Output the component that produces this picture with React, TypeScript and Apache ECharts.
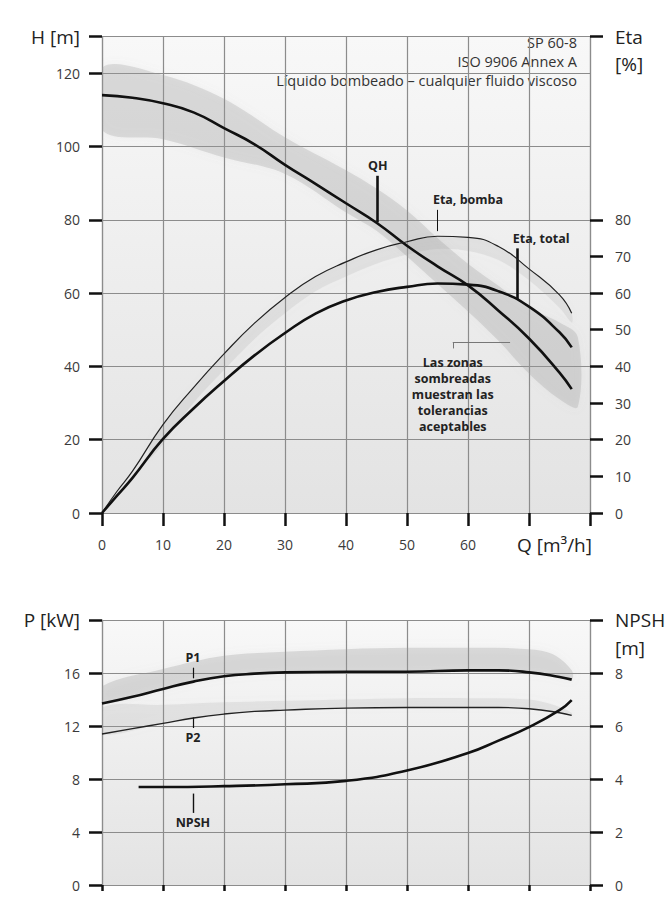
import React, { useEffect, useRef } from 'react';
import * as echarts from 'echarts';

// ---------- data ----------
const qhQ = [0, 5, 10, 15, 20, 25, 30, 35, 40, 45, 50, 55, 60, 65, 70, 75, 77];
const qhH = [114, 113.3, 111.8, 109.3, 105, 100.6, 95, 89.8, 84.5, 79.2, 72.9, 67.3, 62.1, 55.2, 47.6, 38.3, 33.8];

const etaQ = [0, 2.5, 5, 10, 15, 20, 25, 30, 35, 40, 45, 50, 55, 60, 65, 70, 75, 77];
const etaBomba = [0, 6, 11.4, 24.1, 34.2, 43.4, 51.8, 58.8, 64.5, 68.5, 71.8, 74, 75.5, 75.2, 72.7, 66.6, 59.5, 54.5];
const etaTotal = [0, 4.8, 9.6, 20.2, 28.5, 36, 43, 49.1, 54.4, 58, 60.3, 61.7, 62.6, 62.3, 60.5, 56.3, 49.3, 45.2];

const qhBandQ = [0, 10, 20, 30, 40, 45, 50, 55, 60, 65, 70, 75, 78];
const qhBandLower = [104.5, 102, 97, 92.5, 82, 77, 70, 62.5, 55, 47, 38, 31, 29];
const qhBandUpper = [121.5, 119.5, 113, 102.5, 93.5, 88.5, 82.5, 75, 68, 62, 56, 52, 48];

const etaBandQ = [8, 15, 20, 25, 30, 35, 40, 45, 50, 55, 60, 65, 70, 75, 77];
const etaBandLower = [15, 30, 39, 47.5, 54.5, 60.5, 64.5, 68, 70.5, 72, 71.5, 69, 63.5, 56, 52];
const etaBandUpper = [19.5, 34.2, 43.4, 51.8, 58.8, 64.5, 68.5, 71.8, 74, 75.4, 75.2, 72.7, 66.6, 59.5, 54.5];

const pQ = [0, 5, 10, 15, 20, 25, 30, 40, 50, 60, 65, 70, 75, 77];
const p1 = [13.7, 14.2, 14.8, 15.35, 15.75, 15.95, 16.05, 16.1, 16.1, 16.2, 16.2, 16.05, 15.7, 15.5];
const p2 = [11.4, 11.8, 12.2, 12.6, 12.9, 13.1, 13.2, 13.35, 13.4, 13.4, 13.4, 13.3, 13.0, 12.8];

const pBandQ = [0, 10, 20, 30, 40, 50, 60, 70, 74, 77];
const p1BandLower = [13.7, 14.8, 15.75, 16.05, 16.1, 16.1, 16.2, 16.05, 15.8, 15.5];
const p1BandUpper = [15.0, 16.3, 17.3, 17.6, 17.8, 17.9, 17.9, 17.8, 17.4, 16.2];
const p2BandLower = [11.4, 12.2, 12.9, 13.2, 13.35, 13.4, 13.4, 13.3, 13.05, 12.8];
const p2BandUpper = [13.4, 13.6, 13.8, 13.9, 14.0, 14.1, 14.1, 14.0, 13.6, 13.0];

const npshQ = [6, 10, 20, 30, 40, 50, 60, 65, 70, 75, 77];
const npsh = [3.7, 3.7, 3.73, 3.8, 3.93, 4.32, 4.98, 5.45, 5.96, 6.6, 6.98];

const hTicks = [0, 20, 40, 60, 80, 100, 120, 130];
const etaTicks = [0, 10, 20, 30, 40, 50, 60, 70, 80, 130];
const pTicks = [0, 4, 8, 12, 16, 20];
const npshTicks = [0, 2, 4, 6, 8, 10];

const annotLines = ['SP 60-8', 'ISO 9906 Annex A', 'Líquido bombeado – cualquier fluido viscoso'];
const zonasLines = ['Las zonas', 'sombreadas', 'muestran las', 'tolerancias', 'aceptables'];

// ---------- helpers ----------
const FONT = "'Open Sans', 'Noto Sans', 'DejaVu Sans', sans-serif";
const pairs = (xs: number[], ys: number[]) => xs.map((x, i) => [x, ys[i]]);

const GRID_LINE = '#8c8c8c';
const TICK = { show: true, length: 13, lineStyle: { color: '#111', width: 2.5 } };
const labelStyle = { color: '#3a3a3a', fontSize: 14, fontFamily: FONT };
const unitRich = { u: { fontSize: 19, color: '#222', fontFamily: FONT, lineHeight: 27 } };

const bg = () =>
  new echarts.graphic.LinearGradient(0, 0, 0, 1, [
    { offset: 0, color: '#f8f8f8' },
    { offset: 1, color: '#e3e3e3' },
  ]);

const boldLabel = {
  show: true,
  fontWeight: 'bold',
  fontSize: 12.5,
  color: '#222',
  fontFamily: FONT,
};

// tolerance band drawn as a smoothed polygon through the library's own scales
function band(name: string, xs: number[], lo: number[], hi: number[], color: string, xIdx: number, yIdx: number) {
  return {
    name,
    type: 'custom',
    xAxisIndex: xIdx,
    yAxisIndex: yIdx,
    silent: true,
    clip: true,
    z: 1,
    data: [[xs[0], lo[0]]],
    renderItem: (_params: any, api: any) => {
      const upper = xs.map((x, i) => api.coord([x, hi[i]]));
      const lower = xs.map((x, i) => api.coord([x, lo[i]])).reverse();
      return {
        type: 'polygon',
        shape: { points: upper.concat(lower), smooth: 0.35 },
        style: { fill: color, shadowBlur: 8, shadowColor: color },
      };
    },
  };
}

const curve = { type: 'line', smooth: true, symbol: 'none', z: 5 };

const leader = (x1: number, y1: number, x2: number, y2: number, width: number, color = '#111') => [
  { coord: [x1, y1], lineStyle: { width, color, type: 'solid' } },
  { coord: [x2, y2] },
];

const markLineBase = {
  silent: true,
  symbol: ['none', 'none'],
  label: { show: false },
  emphasis: { disabled: true },
};

const markPointBase = {
  silent: true,
  symbol: 'circle',
  symbolSize: 1,
  itemStyle: { color: 'rgba(0,0,0,0)' },
};

export default function App() {
  const ref = useRef<HTMLDivElement>(null);

  useEffect(() => {
    if (!ref.current) return;
    const chart = echarts.init(ref.current, undefined, { renderer: 'svg' });

    const option: any = {
      animation: false,
      backgroundColor: '#ffffff',
      textStyle: { fontFamily: FONT },
      grid: [
        { left: 102, top: 20, width: 488, height: 493, show: true, backgroundColor: bg(), borderWidth: 0 },
        { left: 102, top: 620, width: 488, height: 265, show: true, backgroundColor: bg(), borderWidth: 0 },
      ],
      xAxis: [
        {
          type: 'value',
          gridIndex: 0,
          min: 0,
          max: 80,
          interval: 10,
          axisLine: { show: true, lineStyle: { color: GRID_LINE, width: 1.2 } },
          axisTick: TICK,
          splitLine: { show: true, lineStyle: { color: GRID_LINE, width: 1.2 } },
          axisLabel: {
            ...labelStyle,
            margin: 24,
            formatter: (v: number) => (v <= 60 ? String(v) : ''),
          },
          name: 'Q [m³/h]',
          nameLocation: 'end',
          nameGap: 2,
          nameTextStyle: {
            fontSize: 19,
            color: '#222',
            fontFamily: FONT,
            align: 'right',
            verticalAlign: 'top',
            padding: [22, 0, 0, 0],
          },
        },
        {
          type: 'value',
          gridIndex: 1,
          min: 0,
          max: 80,
          interval: 10,
          axisLine: { show: true, lineStyle: { color: GRID_LINE, width: 1.2 } },
          axisTick: { show: true, length: 6, lineStyle: { color: '#111', width: 2.5 } },
          splitLine: { show: true, lineStyle: { color: GRID_LINE, width: 1.2 } },
          axisLabel: { show: false },
        },
      ],
      yAxis: [
        {
          type: 'value',
          gridIndex: 0,
          position: 'left',
          min: 0,
          max: 130,
          interval: 10,
          axisLine: { show: true, lineStyle: { color: GRID_LINE, width: 1.2 } },
          axisTick: { ...TICK, customValues: hTicks },
          splitLine: { show: true, lineStyle: { color: GRID_LINE, width: 1.2 } },
          axisLabel: {
            ...labelStyle,
            margin: 22,
            customValues: hTicks,
            showMaxLabel: true,
            formatter: (v: number) => (v === 130 ? '{u|H [m]}' : String(v)),
            rich: unitRich,
          },
        },
        {
          type: 'value',
          gridIndex: 0,
          position: 'right',
          min: 0,
          max: 130,
          interval: 10,
          axisLine: { show: true, lineStyle: { color: GRID_LINE, width: 1.2 } },
          axisTick: { ...TICK, customValues: etaTicks },
          splitLine: { show: false },
          axisLabel: {
            ...labelStyle,
            margin: 25,
            customValues: etaTicks,
            showMaxLabel: true,
            formatter: (v: number) => (v === 130 ? '{u| }\n{u|Eta}\n{u|[%]}' : String(v)),
            rich: unitRich,
          },
        },
        {
          type: 'value',
          gridIndex: 1,
          position: 'left',
          min: 0,
          max: 20,
          interval: 2,
          axisLine: { show: true, lineStyle: { color: GRID_LINE, width: 1.2 } },
          axisTick: { ...TICK, customValues: pTicks },
          splitLine: { show: true, lineStyle: { color: GRID_LINE, width: 1.2 } },
          axisLabel: {
            ...labelStyle,
            margin: 22,
            customValues: pTicks,
            showMaxLabel: true,
            formatter: (v: number) => (v === 20 ? '{u|P [kW]}' : String(v)),
            rich: unitRich,
          },
        },
        {
          type: 'value',
          gridIndex: 1,
          position: 'right',
          min: 0,
          max: 10,
          interval: 1,
          axisLine: { show: true, lineStyle: { color: GRID_LINE, width: 1.2 } },
          axisTick: { ...TICK, customValues: npshTicks },
          splitLine: { show: false },
          axisLabel: {
            ...labelStyle,
            margin: 25,
            customValues: npshTicks,
            showMaxLabel: true,
            formatter: (v: number) => (v === 10 ? '{n| }\n{n|NPSH}\n{n|[m]}' : String(v)),
            rich: { n: { fontSize: 19, color: '#222', fontFamily: FONT, lineHeight: 28 } },
          },
        },
      ],
      graphic: [
        {
          type: 'text',
          right: 94,
          top: 33,
          silent: true,
          style: {
            text: annotLines.join('\n'),
            textAlign: 'right',
            fill: '#333',
            fontSize: 14.5,
            fontFamily: FONT,
            lineHeight: 19,
          },
        },
      ],
      series: [
        band('qhBand', qhBandQ, qhBandLower, qhBandUpper, 'rgba(150,150,150,0.27)', 0, 0),
        band('etaBand', etaBandQ, etaBandLower, etaBandUpper, 'rgba(150,150,150,0.15)', 0, 1),
        band('p1Band', pBandQ, p1BandLower, p1BandUpper, 'rgba(150,150,150,0.28)', 1, 2),
        band('p2Band', pBandQ, p2BandLower, p2BandUpper, 'rgba(150,150,150,0.16)', 1, 2),
        {
          ...curve,
          name: 'QH',
          xAxisIndex: 0,
          yAxisIndex: 0,
          lineStyle: { color: '#111', width: 2.6 },
          data: pairs(qhQ, qhH),
          markLine: {
            ...markLineBase,
            data: [leader(45.2, 79.3, 45.2, 92, 2.6)],
          },
          markPoint: {
            ...markPointBase,
            label: { ...boldLabel, position: 'top', distance: 3, formatter: '{b}' },
            data: [{ name: 'QH', coord: [45.2, 92] }],
          },
        },
        {
          ...curve,
          name: 'Eta, bomba',
          xAxisIndex: 0,
          yAxisIndex: 1,
          lineStyle: { color: '#222', width: 1.2 },
          data: pairs(etaQ, etaBomba),
          markLine: {
            ...markLineBase,
            data: [leader(54.9, 76.9, 54.9, 82.7, 1), leader(57.5, 44.9, 57.5, 46.5, 1, '#777'), leader(57.5, 46.5, 66.9, 46.5, 1, '#777')],
          },
          markPoint: {
            ...markPointBase,
            label: { ...boldLabel, formatter: '{b}' },
            data: [
              {
                name: 'Eta, bomba',
                coord: [54.9, 82.7],
                label: { position: 'top', distance: 3, align: 'left', offset: [-4, 0] },
              },
              {
                name: zonasLines.join('\n'),
                coord: [57.5, 44.9],
                label: { position: 'bottom', distance: 6, align: 'center', lineHeight: 16 },
              },
            ],
          },
        },
        {
          ...curve,
          name: 'Eta, total',
          xAxisIndex: 0,
          yAxisIndex: 1,
          lineStyle: { color: '#111', width: 2.6 },
          data: pairs(etaQ, etaTotal),
          markLine: {
            ...markLineBase,
            data: [leader(68, 58.3, 68, 72.2, 2.6)],
          },
          markPoint: {
            ...markPointBase,
            label: { ...boldLabel, formatter: '{b}' },
            data: [
              {
                name: 'Eta, total',
                coord: [68, 72.2],
                label: { position: 'top', distance: 3, align: 'left', offset: [-4, 0] },
              },
            ],
          },
        },
        {
          ...curve,
          name: 'P1',
          xAxisIndex: 1,
          yAxisIndex: 2,
          lineStyle: { color: '#111', width: 2.6 },
          data: pairs(pQ, p1),
          markLine: { ...markLineBase, data: [leader(14.9, 15.6, 14.9, 16.4, 1.2)] },
          markPoint: {
            ...markPointBase,
            label: { ...boldLabel, formatter: '{b}', position: 'top', distance: 3 },
            data: [{ name: 'P1', coord: [14.9, 16.4] }],
          },
        },
        {
          ...curve,
          name: 'P2',
          xAxisIndex: 1,
          yAxisIndex: 2,
          lineStyle: { color: '#222', width: 1.4 },
          data: pairs(pQ, p2),
          markLine: { ...markLineBase, data: [leader(14.9, 12.65, 14.9, 11.85, 1.2)] },
          markPoint: {
            ...markPointBase,
            label: { ...boldLabel, formatter: '{b}', position: 'bottom', distance: 3 },
            data: [{ name: 'P2', coord: [14.9, 11.85] }],
          },
        },
        {
          ...curve,
          name: 'NPSH',
          xAxisIndex: 1,
          yAxisIndex: 3,
          lineStyle: { color: '#111', width: 2.6 },
          data: pairs(npshQ, npsh),
          markLine: { ...markLineBase, data: [leader(14.9, 3.45, 14.9, 2.72, 1.4)] },
          markPoint: {
            ...markPointBase,
            label: { ...boldLabel, formatter: '{b}', position: 'bottom', distance: 3 },
            data: [{ name: 'NPSH', coord: [14.9, 2.72] }],
          },
        },
      ],
    };

    chart.setOption(option);
    return () => chart.dispose();
  }, []);

  return (
    <div
      ref={ref}
      style={{ position: 'fixed', left: 0, top: 0, width: 671, height: 897, background: '#fff' }}
    />
  );
}
